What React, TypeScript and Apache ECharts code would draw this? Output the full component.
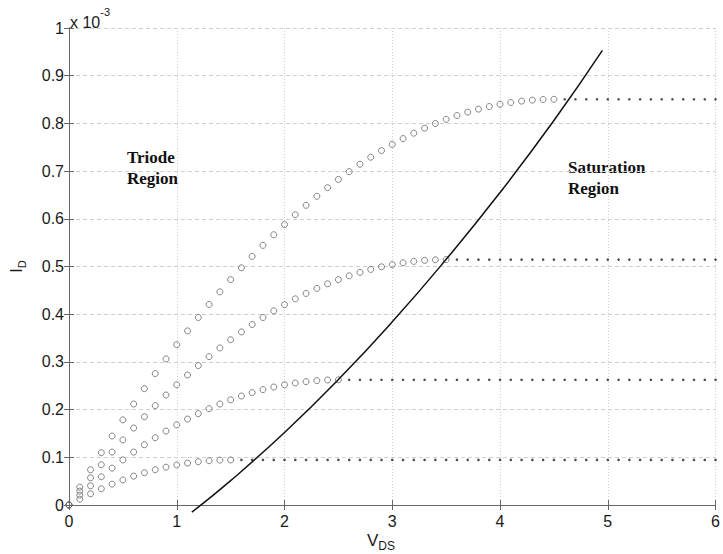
import React, { useEffect, useRef } from "react";
import * as echarts from "echarts";

// Drain-source voltage grid (V)
const vds = [
  0, 0.1, 0.2, 0.3, 0.4, 0.5, 0.6, 0.7, 0.8, 0.9,
  1.0, 1.1, 1.2, 1.3, 1.4, 1.5, 1.6, 1.7, 1.8, 1.9,
  2.0, 2.1, 2.2, 2.3, 2.4, 2.5, 2.6, 2.7, 2.8, 2.9,
  3.0, 3.1, 3.2, 3.3, 3.4, 3.5, 3.6, 3.7, 3.8, 3.9,
  4.0, 4.1, 4.2, 4.3, 4.4, 4.5, 4.6, 4.7, 4.8, 4.9,
  5.0, 5.1, 5.2, 5.3, 5.4, 5.5, 5.6, 5.7, 5.8, 5.9, 6.0,
];

// Triode-region currents (x 10^-3 A), one value per vds step
const triode1 = [
  0, 0.0374, 0.0739, 0.1096, 0.1445, 0.1785, 0.2117, 0.244, 0.2755, 0.3062,
  0.336, 0.365, 0.3931, 0.4204, 0.4469, 0.4725, 0.4973, 0.5212, 0.5443, 0.5666,
  0.588, 0.6086, 0.6283, 0.6472, 0.6653, 0.6825, 0.6989, 0.7144, 0.7291, 0.743,
  0.756, 0.7682, 0.7795, 0.79, 0.7997, 0.8085, 0.8165, 0.8236, 0.8299, 0.8354,
  0.84, 0.8438, 0.8467, 0.8488, 0.8501, 0.8505,
];
const triode2 = [
  0, 0.029, 0.0571, 0.0844, 0.1109, 0.1365, 0.1613, 0.1852, 0.2083, 0.2306,
  0.252, 0.2726, 0.2923, 0.3112, 0.3293, 0.3465, 0.3629, 0.3784, 0.3931, 0.407,
  0.42, 0.4322, 0.4435, 0.454, 0.4637, 0.4725, 0.4805, 0.4876, 0.4939, 0.4994,
  0.504, 0.5078, 0.5107, 0.5128, 0.5141, 0.5145,
];
const triode3 = [
  0, 0.0206, 0.0403, 0.0592, 0.0773, 0.0945, 0.1109, 0.1264, 0.1411, 0.155,
  0.168, 0.1802, 0.1915, 0.202, 0.2117, 0.2205, 0.2285, 0.2356, 0.2419, 0.2474,
  0.252, 0.2558, 0.2587, 0.2608, 0.2621, 0.2625,
];
const triode4 = [
  0, 0.0122, 0.0235, 0.034, 0.0437, 0.0525, 0.0605, 0.0676, 0.0739, 0.0794,
  0.084, 0.0878, 0.0907, 0.0928, 0.0941, 0.0945,
];

// Saturation-region currents (x 10^-3 A)
const saturation = [0.8505, 0.5145, 0.2625, 0.0945];

// Triode / saturation boundary curve
const boundaryVds = [1.14, 1.5, 2.0, 2.5, 3.0, 3.5, 4.0, 4.5, 4.95];
const boundaryId = [-0.015, 0.051, 0.152, 0.263, 0.384, 0.515, 0.655, 0.806, 0.953];

const xTicks = ["0", "1", "2", "3", "4", "5", "6"];
const yTicks = ["0", "0.1", "0.2", "0.3", "0.4", "0.5", "0.6", "0.7", "0.8", "0.9", "1"];

const FONT = "'Liberation Sans', Arial, Helvetica, sans-serif";
const SERIF = "'Liberation Serif', 'Times New Roman', serif";

export default function App() {
  const ref = useRef<HTMLDivElement>(null);

  useEffect(() => {
    if (!ref.current) return;
    const chart = echarts.init(ref.current, undefined, { renderer: "svg" });

    const triodes = [triode1, triode2, triode3, triode4];
    const circleSeries = triodes.map((arr) => ({
      type: "scatter",
      symbol: "circle",
      symbolSize: 6,
      itemStyle: { color: "rgba(0,0,0,0)", borderColor: "#666", borderWidth: 1 },
      data: arr.map((v, i) => [vds[i], v]),
      z: 3,
    }));
    const dotSeries = triodes.map((arr, k) => {
      const end = vds[arr.length - 1];
      return {
        type: "scatter",
        symbol: "circle",
        symbolSize: 2.6,
        itemStyle: { color: "#222" },
        data: vds.filter((x) => x > end + 1e-9).map((x) => [x, saturation[k]]),
        z: 3,
      };
    });

    const axisLine = { show: true, lineStyle: { color: "#666", width: 1 } };
    const tick = { show: true, inside: true, length: 5, lineStyle: { color: "#666" } };

    chart.setOption({
      animation: false,
      backgroundColor: "#fff",
      grid: { left: 69, right: 6, top: 28, bottom: 49, containLabel: false },
      xAxis: [
        {
          type: "value",
          min: 0,
          max: 6,
          interval: 1,
          axisLine,
          axisTick: tick,
          axisLabel: {
            color: "#1a1a1a",
            fontFamily: FONT,
            fontSize: 16,
            margin: 8,
            formatter: (v: number) => xTicks[Math.round(v)],
          },
          splitLine: { show: true, lineStyle: { color: "#cfcfcf", type: [1, 2] } },
        },
        {
          type: "value",
          position: "top",
          min: 0,
          max: 6,
          interval: 1,
          axisLine,
          axisTick: tick,
          axisLabel: { show: false },
          splitLine: { show: false },
        },
      ],
      yAxis: [
        {
          type: "value",
          min: 0,
          max: 1,
          interval: 0.1,
          name: "{a|I}{b|D}",
          nameLocation: "middle",
          nameRotate: 90,
          nameGap: 42,
          nameTextStyle: {
            rich: {
              a: { fontFamily: FONT, fontSize: 16, color: "#1a1a1a" },
              b: { fontFamily: FONT, fontSize: 11, color: "#1a1a1a", padding: [10, 0, 0, 0] },
            },
          },
          axisLine,
          axisTick: tick,
          axisLabel: {
            color: "#1a1a1a",
            fontFamily: FONT,
            fontSize: 16,
            margin: 5,
            formatter: (v: number) => yTicks[Math.round(v * 10)],
          },
          splitLine: { show: true, lineStyle: { color: "#cfcfcf", type: [4, 3] } },
        },
        {
          type: "value",
          position: "right",
          min: 0,
          max: 1,
          interval: 0.1,
          axisLine,
          axisTick: tick,
          axisLabel: { show: false },
          splitLine: { show: false },
        },
      ],
      series: [
        ...circleSeries,
        ...dotSeries,
        {
          type: "line",
          smooth: true,
          showSymbol: false,
          clip: false,
          lineStyle: { color: "#111", width: 1.5 },
          data: boundaryVds.map((x, i) => [x, boundaryId[i]]),
          z: 4,
        },
      ],
      graphic: [
        {
          type: "text",
          left: 70,
          top: 6,
          style: {
            text: "{a|x 10}{b|-3}",
            rich: {
              a: { fontFamily: FONT, fontSize: 16, fill: "#1a1a1a", padding: [8, 0, 0, 0] },
              b: { fontFamily: FONT, fontSize: 11, fill: "#1a1a1a", verticalAlign: "top" },
            },
          },
        },
        {
          type: "text",
          x: 381,
          y: 540,
          style: {
            text: "{a|V}{b|DS}",
            align: "center",
            verticalAlign: "middle",
            rich: {
              a: { fontFamily: FONT, fontSize: 17, fill: "#1a1a1a" },
              b: { fontFamily: FONT, fontSize: 12, fill: "#1a1a1a", padding: [12, 0, 0, 0] },
            },
          },
        },
        {
          type: "text",
          left: 127,
          top: 147,
          style: {
            text: "Triode\nRegion",
            fontFamily: SERIF,
            fontWeight: "bold",
            fontSize: 17,
            lineHeight: 21,
            fill: "#111",
          },
        },
        {
          type: "text",
          left: 568,
          top: 157,
          style: {
            text: "Saturation\nRegion",
            fontFamily: SERIF,
            fontWeight: "bold",
            fontSize: 17,
            lineHeight: 21,
            fill: "#111",
          },
        },
      ],
    });

    return () => chart.dispose();
  }, []);

  return <div ref={ref} style={{ width: 723, height: 554, position: "absolute", left: 0, top: 0 }} />;
}
